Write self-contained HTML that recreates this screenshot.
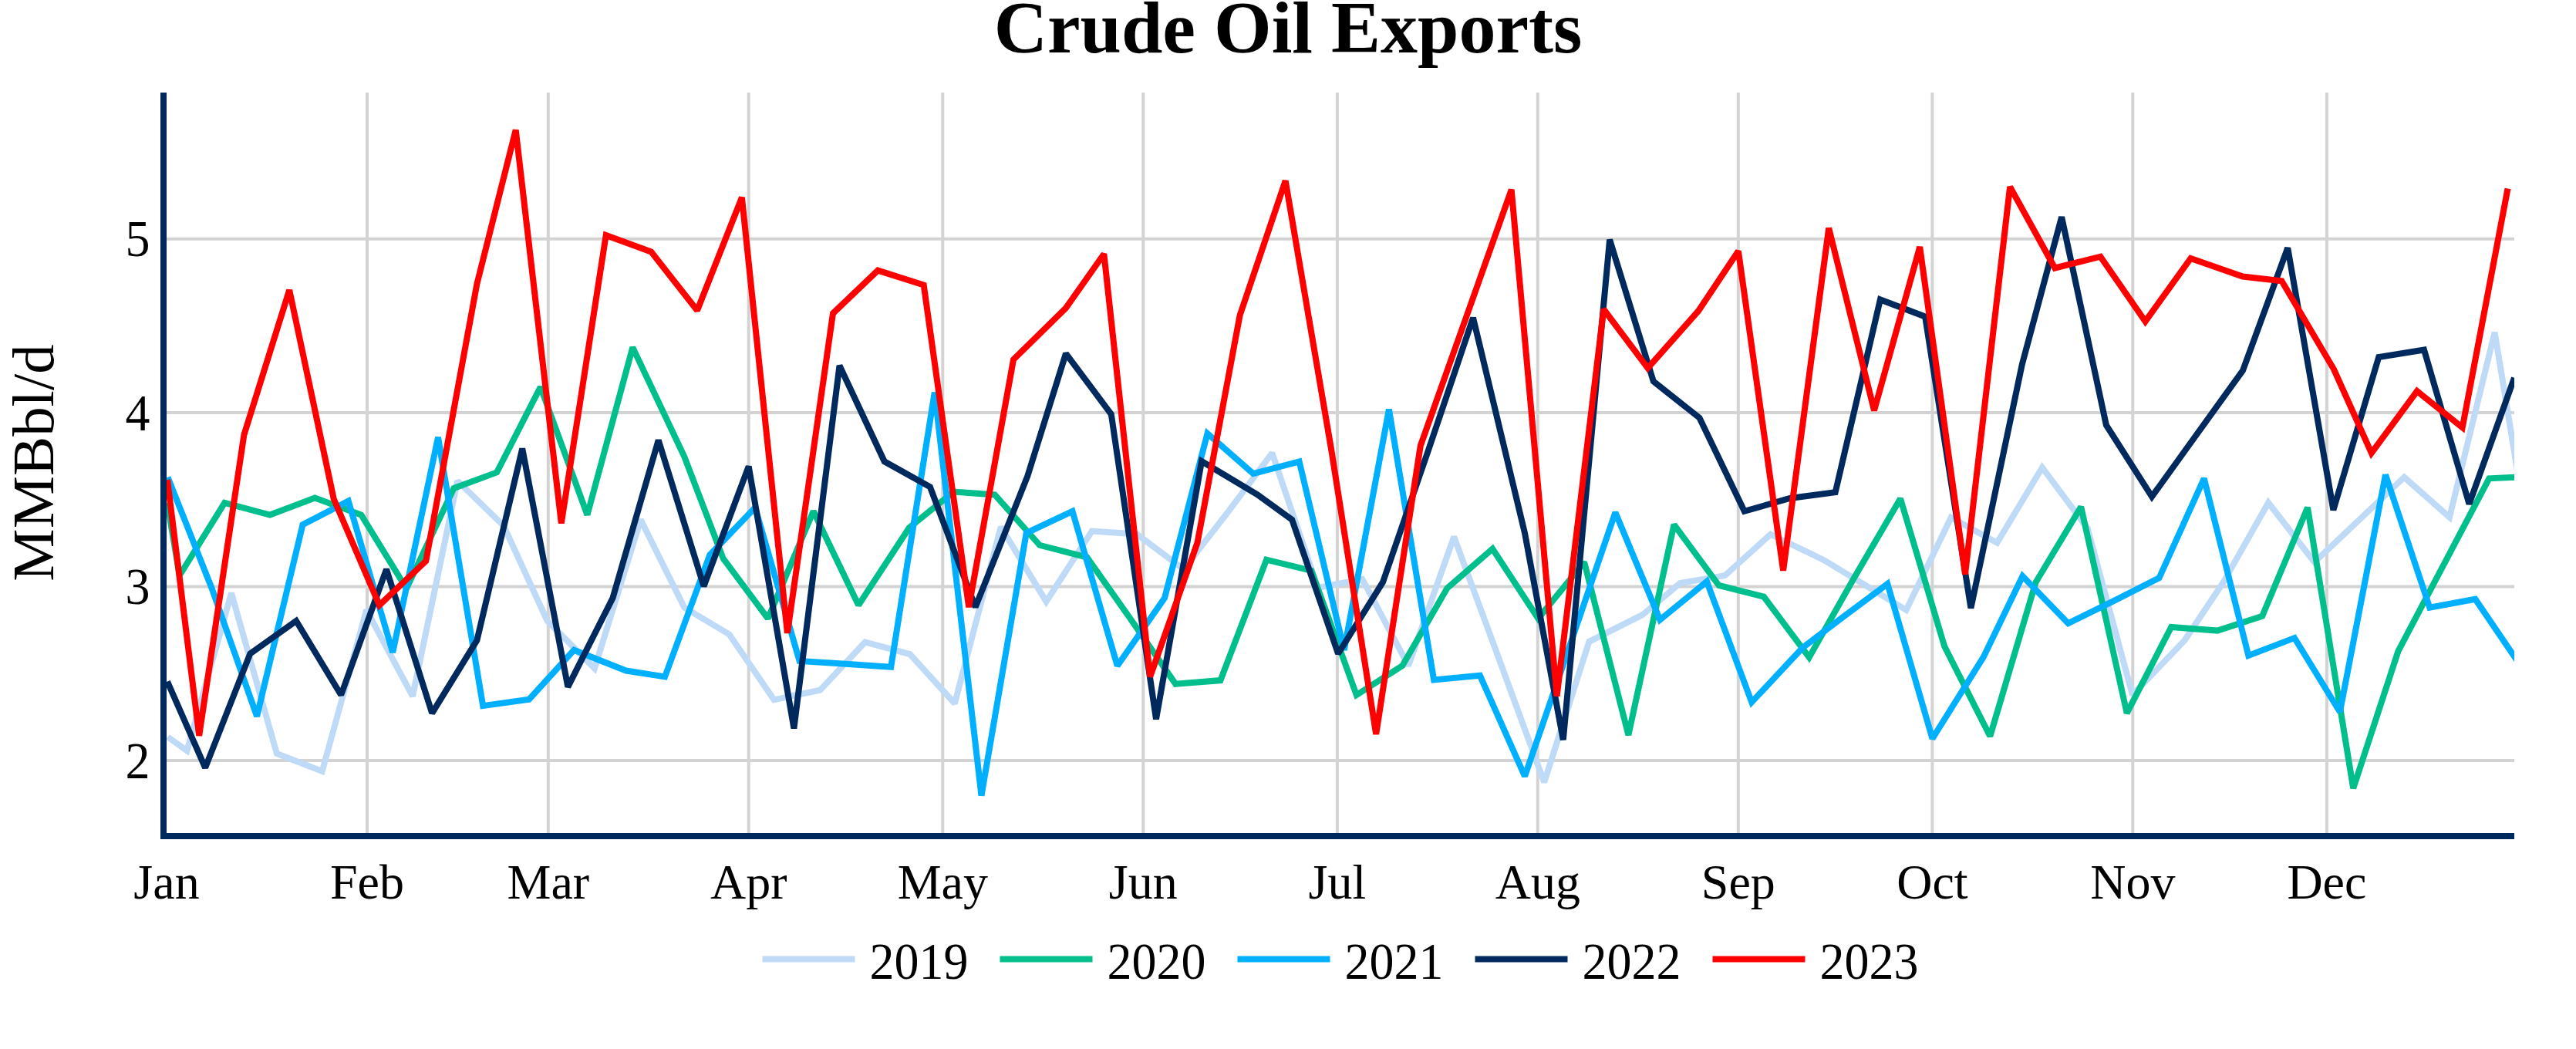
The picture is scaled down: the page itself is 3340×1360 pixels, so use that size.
<!DOCTYPE html>
<html><head><meta charset="utf-8"><title>Crude Oil Exports</title>
<style>
html,body{margin:0;padding:0;background:#fff;}
body{width:3340px;height:1360px;overflow:hidden;}
svg{display:block;}
text{font-family:"Liberation Serif",serif;fill:#000;}
</style></head><body>
<svg width="3340" height="1360" viewBox="0 0 3340 1360">
<rect x="0" y="0" width="3340" height="1360" fill="#ffffff"/>
<defs><clipPath id="plot"><rect x="216" y="120" width="3044" height="960"/></clipPath></defs>
<g stroke="#d3d3d3" stroke-width="4" fill="none">
<line x1="476.0" y1="120" x2="476.0" y2="1080"/>
<line x1="710.8" y1="120" x2="710.8" y2="1080"/>
<line x1="970.7" y1="120" x2="970.7" y2="1080"/>
<line x1="1222.3" y1="120" x2="1222.3" y2="1080"/>
<line x1="1482.3" y1="120" x2="1482.3" y2="1080"/>
<line x1="1733.9" y1="120" x2="1733.9" y2="1080"/>
<line x1="1993.8" y1="120" x2="1993.8" y2="1080"/>
<line x1="2253.8" y1="120" x2="2253.8" y2="1080"/>
<line x1="2505.4" y1="120" x2="2505.4" y2="1080"/>
<line x1="2765.3" y1="120" x2="2765.3" y2="1080"/>
<line x1="3016.9" y1="120" x2="3016.9" y2="1080"/>
<line x1="216" y1="309.7" x2="3260" y2="309.7"/>
<line x1="216" y1="535.1" x2="3260" y2="535.1"/>
<line x1="216" y1="760.6" x2="3260" y2="760.6"/>
<line x1="216" y1="986.0" x2="3260" y2="986.0"/>
</g>
<g clip-path="url(#plot)" fill="none" stroke-width="8" stroke-linejoin="miter" stroke-miterlimit="2" stroke-linecap="butt">
<polyline stroke="#bedaf7" points="217.4,955.4 242.5,973.3 300.0,768.9 358.9,977.1 417.7,1000.0 475.2,790.9 535.0,902.6 593.2,623.5 653.0,681.7 709.6,805.0 770.9,866.4 830.7,673.8 887.3,787.7 945.5,822.4 1003.6,907.3 1063.4,894.7 1121.6,832.4 1179.7,848.1 1237.9,912.0 1297.7,683.2 1356.5,779.9 1415.7,688.6 1473.9,692.5 1534.5,738.0 1591.3,665.0 1649.4,587.3 1708.7,762.0 1766.4,751.0 1826.1,863.2 1885.2,695.8 1943.5,854.0 2002.2,1014.2 2060.4,831.8 2129.6,797.2 2178.4,756.0 2236.6,746.1 2295.7,692.7 2364.0,725.7 2413.1,755.4 2471.5,790.9 2529.7,671.0 2589.4,703.7 2647.9,606.2 2706.6,684.8 2764.9,901.0 2832.5,830.2 2882.7,755.0 2941.1,651.8 3000.8,728.8 3058.8,674.1 3117.2,618.7 3176.0,670.6 3234.6,430.9 3293.3,789.0"/>
<polyline stroke="#00bf8c" points="217.0,652.0 232.8,746.0 291.2,651.8 350.0,667.5 408.2,645.5 468.3,667.5 527.0,763.0 588.5,632.9 644.2,612.4 700.8,501.7 761.5,667.5 820.3,450.4 887.3,592.0 937.7,724.1 995.7,801.9 1054.6,662.8 1113.1,784.6 1178.8,684.2 1236.4,637.6 1289.8,641.4 1348.0,706.8 1409.4,722.5 1465.5,802.0 1524.2,886.8 1582.4,882.1 1642.1,725.7 1700.3,739.8 1758.8,901.0 1818.2,863.2 1876.4,762.6 1935.2,711.5 1994.4,801.9 2054.1,728.8 2111.4,952.9 2170.5,680.1 2228.7,759.0 2286.9,773.6 2345.7,852.2 2404.7,748.0 2464.0,646.4 2521.2,838.1 2580.3,954.5 2639.5,755.0 2698.2,657.1 2757.7,924.6 2815.2,812.9 2875.0,817.6 2933.2,798.8 2992.0,658.0 3051.2,1022.1 3109.4,844.4 3167.8,733.3 3227.3,620.3 3286.0,617.4"/>
<polyline stroke="#00b0ff" points="217.5,618.7 274.7,763.0 333.1,928.7 392.5,680.1 451.7,649.6 509.2,845.9 568.0,566.8 626.2,915.1 686.0,906.7 744.2,842.8 811.8,869.5 862.1,877.4 920.3,719.4 979.1,658.0 1036.6,856.9 1096.5,860.7 1155.2,864.8 1211.8,508.6 1272.5,1031.5 1330.7,691.1 1390.5,662.8 1448.7,863.2 1510.0,775.2 1565.5,562.0 1624.9,614.0 1684.6,598.3 1742.8,842.8 1800.9,530.7 1859.1,881.5 1918.9,875.8 1977.0,1006.4 2035.7,836.0 2094.4,664.4 2152.3,803.5 2213.0,754.0 2271.2,910.4 2337.2,839.7 2387.9,801.3 2447.3,757.0 2505.5,957.6 2571.5,852.2 2622.4,747.0 2681.6,808.2 2740.1,779.3 2799.5,749.3 2857.7,620.3 2915.3,850.0 2975.0,827.1 3033.9,923.0 3093.0,615.6 3150.3,787.7 3209.4,776.7 3268.1,863.0"/>
<polyline stroke="#002a5e" points="217.0,883.5 266.1,995.4 324.3,847.5 384.0,805.0 442.2,901.0 501.0,738.0 560.2,924.6 618.4,830.2 677.2,581.6 736.3,890.6 794.5,775.2 853.7,570.6 912.5,760.0 970.7,604.6 1029.4,944.4 1088.5,474.0 1146.7,598.3 1205.9,631.3 1264.7,787.1 1332.3,617.2 1382.0,458.3 1440.8,537.0 1499.0,932.4 1558.0,598.0 1630.0,641.0 1675.2,673.8 1735.0,847.5 1793.0,754.7 1851.2,586.0 1910.0,412.0 1977.0,691.1 2026.8,959.2 2087.1,310.7 2143.8,494.5 2203.5,541.7 2261.7,662.8 2320.8,646.0 2379.7,638.2 2437.9,388.4 2496.1,410.4 2555.4,788.5 2621.8,472.5 2673.1,281.4 2730.9,551.1 2790.1,643.9 2849.1,562.0 2908.0,480.3 2966.2,321.4 3025.4,661.2 3084.2,463.0 3143.0,453.6 3201.5,653.3 3260.0,489.8"/>
<polyline stroke="#ff0000" points="217.0,622.0 258.2,953.8 316.4,563.7 375.2,376.0 432.8,647.0 491.9,784.6 552.3,727.3 618.4,368.0 668.7,168.4 727.8,678.5 785.7,305.0 844.2,326.4 904.0,402.5 961.9,256.0 1020.9,820.8 1080.0,406.3 1138.2,350.6 1197.7,369.5 1256.2,787.1 1314.0,466.2 1382.0,399.4 1431.4,329.3 1491.2,877.4 1552.5,703.7 1607.6,408.8 1666.7,234.3 1726.0,582.0 1784.2,952.0 1841.8,577.8 1901.5,410.0 1959.7,245.9 2018.6,902.6 2079.3,401.0 2136.5,477.2 2202.0,403.2 2253.9,325.5 2312.1,739.8 2371.2,295.6 2430.0,532.2 2489.2,320.1 2548.0,744.6 2606.1,242.1 2664.3,347.5 2723.4,332.7 2781.6,416.7 2840.4,334.9 2908.0,358.5 2958.4,364.2 3026.0,478.8 3074.8,587.3 3133.9,507.1 3192.7,554.3 3251.5,244.6"/>
</g>
<rect x="208" y="120" width="8" height="968" fill="#002a5e"/>
<rect x="208" y="1080" width="3052" height="8" fill="#002a5e"/>
<text x="1670" y="67.5" text-anchor="middle" font-size="96" font-weight="bold">Crude Oil Exports</text>
<text transform="translate(194.5,332.3) scale(1,1.045)" text-anchor="end" font-size="64">5</text>
<text transform="translate(194.5,557.7) scale(1,1.045)" text-anchor="end" font-size="64">4</text>
<text transform="translate(194.5,783.2) scale(1,1.045)" text-anchor="end" font-size="64">3</text>
<text transform="translate(194.5,1008.6) scale(1,1.045)" text-anchor="end" font-size="64">2</text>
<text x="216.0" y="1164.5" text-anchor="middle" font-size="64">Jan</text>
<text x="476.0" y="1164.5" text-anchor="middle" font-size="64">Feb</text>
<text x="710.8" y="1164.5" text-anchor="middle" font-size="64">Mar</text>
<text x="970.7" y="1164.5" text-anchor="middle" font-size="64">Apr</text>
<text x="1222.3" y="1164.5" text-anchor="middle" font-size="64">May</text>
<text x="1482.3" y="1164.5" text-anchor="middle" font-size="64">Jun</text>
<text x="1733.9" y="1164.5" text-anchor="middle" font-size="64">Jul</text>
<text x="1993.8" y="1164.5" text-anchor="middle" font-size="64">Aug</text>
<text x="2253.8" y="1164.5" text-anchor="middle" font-size="64">Sep</text>
<text x="2505.4" y="1164.5" text-anchor="middle" font-size="64">Oct</text>
<text x="2765.3" y="1164.5" text-anchor="middle" font-size="64">Nov</text>
<text x="3016.9" y="1164.5" text-anchor="middle" font-size="64">Dec</text>
<text transform="translate(68.7,600) rotate(-90)" text-anchor="middle" font-size="76.8">MMBbl/d</text>
<line x1="988.5" y1="1243.4" x2="1108.5" y2="1243.4" stroke="#bedaf7" stroke-width="8"/>
<text transform="translate(1127.5,1268.8) scale(1,1.045)" font-size="64">2019</text>
<line x1="1296.5" y1="1243.4" x2="1416.5" y2="1243.4" stroke="#00bf8c" stroke-width="8"/>
<text transform="translate(1435.5,1268.8) scale(1,1.045)" font-size="64">2020</text>
<line x1="1604.5" y1="1243.4" x2="1724.5" y2="1243.4" stroke="#00b0ff" stroke-width="8"/>
<text transform="translate(1743.5,1268.8) scale(1,1.045)" font-size="64">2021</text>
<line x1="1912.5" y1="1243.4" x2="2032.5" y2="1243.4" stroke="#002a5e" stroke-width="8"/>
<text transform="translate(2051.5,1268.8) scale(1,1.045)" font-size="64">2022</text>
<line x1="2220.5" y1="1243.4" x2="2340.5" y2="1243.4" stroke="#ff0000" stroke-width="8"/>
<text transform="translate(2359.5,1268.8) scale(1,1.045)" font-size="64">2023</text>
</svg></body></html>
